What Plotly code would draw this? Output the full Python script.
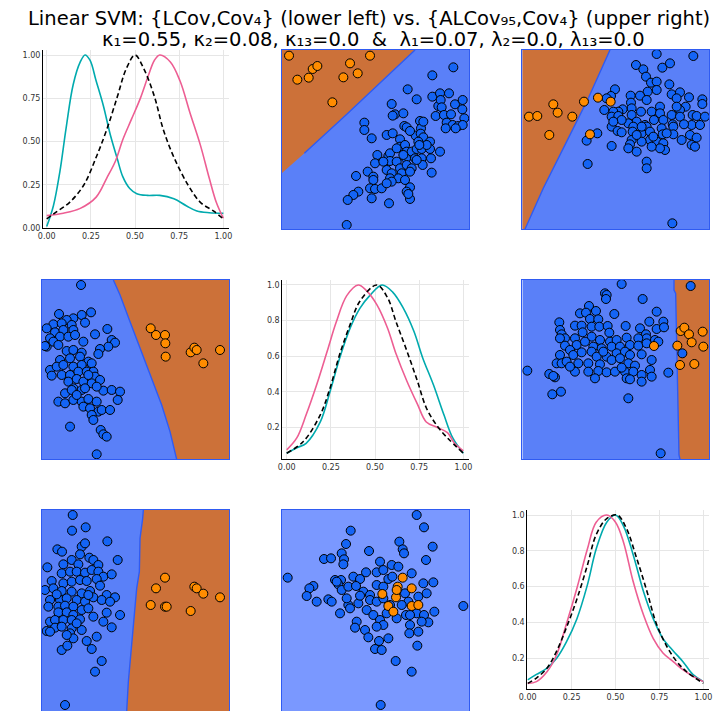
import plotly.graph_objects as go

# The page body adds an 8 px margin, so the figure is 8 px smaller and all
# screen-pixel layout positions are shifted by OFF.
OFF = 8
FW, FH = 713, 703
TITLE1 = "Linear SVM: {LCov,Cov₄} (lower left) vs. {ALCov₉₅,Cov₄} (upper right)"
TITLE2 = "κ₁=0.55, κ₂=0.08, κ₁₃=0.0\u00a0 &\u00a0 λ₁=0.07, λ₂=0.0, λ₁₃=0.0"

TEAL, PINK = "#00AAAE", "#ED5E93"
BLUE_BG, ORANGE_BG, LIGHT_BG = "#5A80F8", "#CC7139", "#7A98FF"
BLUE_PT, ORANGE_PT = "#1464F5", "#FF8C00"
EDGE = "#2F5BF2"

# ---------------- density panels (diagonal) ----------------
d11_teal_x = [0, 0.038, 0.075, 0.11, 0.15, 0.19, 0.217, 0.245, 0.28, 0.32, 0.36, 0.40, 0.43, 0.47, 0.51, 0.57, 0.64, 0.72, 0.79, 0.85, 0.92, 1.0]
d11_teal_y = [0.01, 0.13, 0.33, 0.58, 0.83, 0.96, 1.0, 0.97, 0.85, 0.71, 0.54, 0.40, 0.30, 0.23, 0.20, 0.19, 0.19, 0.17, 0.13, 0.10, 0.09, 0.087]
d11_pink_x = [0, 0.094, 0.19, 0.28, 0.34, 0.39, 0.43, 0.48, 0.53, 0.575, 0.61, 0.64, 0.70, 0.755, 0.81, 0.87, 0.92, 0.96, 1.0]
d11_pink_y = [0.073, 0.087, 0.115, 0.18, 0.29, 0.39, 0.51, 0.63, 0.75, 0.88, 0.97, 1.0, 0.96, 0.85, 0.67, 0.48, 0.29, 0.15, 0.058]
d11_black_x = [0, 0.057, 0.13, 0.21, 0.28, 0.34, 0.40, 0.45, 0.5, 0.55, 0.61, 0.66, 0.72, 0.80, 0.87, 0.95, 1.0]
d11_black_y = [0.054, 0.096, 0.15, 0.25, 0.41, 0.57, 0.76, 0.92, 1.0, 0.92, 0.76, 0.57, 0.41, 0.25, 0.15, 0.096, 0.054]

d22_pink_x = [0, 0.057, 0.11, 0.17, 0.23, 0.28, 0.34, 0.405, 0.45, 0.51, 0.57, 0.62, 0.68, 0.74, 0.79, 0.85, 0.91, 0.95, 1.0]
d22_pink_y = [0.073, 0.14, 0.27, 0.44, 0.63, 0.79, 0.94, 1.0, 0.97, 0.89, 0.76, 0.61, 0.46, 0.33, 0.23, 0.20, 0.17, 0.11, 0.067]
d22_teal_x = [0, 0.057, 0.11, 0.19, 0.245, 0.30, 0.36, 0.415, 0.47, 0.54, 0.60, 0.66, 0.72, 0.77, 0.83, 0.89, 0.94, 1.0]
d22_teal_y = [0.054, 0.085, 0.11, 0.23, 0.40, 0.59, 0.76, 0.87, 0.94, 1.0, 0.96, 0.87, 0.74, 0.59, 0.44, 0.27, 0.14, 0.054]
d22_black_x = [0, 0.094, 0.19, 0.245, 0.30, 0.36, 0.415, 0.51, 0.57, 0.62, 0.68, 0.74, 0.79, 0.85, 0.91, 1.0]
d22_black_y = [0.054, 0.12, 0.27, 0.42, 0.61, 0.78, 0.91, 1.0, 0.93, 0.79, 0.63, 0.46, 0.31, 0.21, 0.14, 0.054]

d33_pink_x = [0, 0.05, 0.11, 0.165, 0.22, 0.28, 0.34, 0.39, 0.45, 0.50, 0.545, 0.60, 0.66, 0.715, 0.77, 0.83, 0.885, 0.94, 1.0]
d33_pink_y = [0.06, 0.07, 0.125, 0.22, 0.39, 0.59, 0.81, 0.96, 1.0, 0.96, 0.85, 0.63, 0.44, 0.31, 0.23, 0.18, 0.135, 0.10, 0.07]
d33_teal_x = [0, 0.05, 0.11, 0.165, 0.22, 0.28, 0.34, 0.39, 0.45, 0.50, 0.545, 0.60, 0.66, 0.715, 0.77, 0.83, 0.885, 0.94, 1.0]
d33_teal_y = [0.08, 0.11, 0.145, 0.20, 0.29, 0.42, 0.61, 0.81, 0.96, 1.0, 0.94, 0.78, 0.57, 0.42, 0.31, 0.24, 0.18, 0.11, 0.07]
d33_black_x = [0, 0.05, 0.11, 0.165, 0.22, 0.28, 0.34, 0.39, 0.45, 0.51, 0.56, 0.62, 0.68, 0.73, 0.79, 0.85, 0.905, 1.0]
d33_black_y = [0.06, 0.09, 0.145, 0.24, 0.37, 0.53, 0.72, 0.89, 0.98, 1.0, 0.93, 0.76, 0.57, 0.40, 0.27, 0.18, 0.125, 0.06]

# ---------------- scatter panels (arbitrary measurement units) ----------------
p12_orange = [(57,32),(128,72),(142,63),(82,104),(116,98),(240,55),(263,85),(300,32),(187,172),(220,97)]
p12_blue = [(550,67),(487,91),(413,133),(440,163),(487,155),(510,145),(537,145),(505,183),(512,165),(515,187),(555,178),(578,165),(577,193),(583,220),(497,213),(522,210),(543,208),(530,233),(548,240),(565,243),(578,240),(527,250),(557,250),(365,177),(375,208),(400,205),(368,212),(450,228),(403,243),(410,247),(453,250),(283,233),(283,255),(305,280),(350,270),(368,265),(390,283),(437,272),(452,266),(460,277),(480,290),(510,320),(322,330),(315,355),(355,333),(360,325),(390,305),(405,300),(380,310),(410,320),(425,320),(440,312),(455,312),(480,312),(360,348),(380,350),(408,340),(435,340),(455,340),(483,340),(390,370),(410,360),(425,370),(458,360),(350,375),(365,385),(395,385),(420,380),(293,380),(310,395),(360,400),(385,400),(405,405),(485,383),(258,393),(310,405),(365,410),(300,430),(315,432),(335,430),(350,415),(420,427),(265,440),(250,450),(233,465),(305,460),(410,440),(420,462),(357,475),(230,540),(415,447),(440,345),(470,300),(445,290),(400,330),(340,350),(460,230),(420,258),(448,300)]
p12_region = [(35,15),(435,15),(345,100),(228,210),(103,325),(35,385)]

p13_orange = [(57,215),(82,213),(130,178),(143,203),(187,215),(118,270),(222,170),(264,158),(302,170),(240,268)]
p13_blue = [(440,27),(550,33),(378,60),(400,73),(457,68),(480,55),(408,95),(423,113),(440,110),(478,118),(440,135),(413,140),(315,133),(303,153),(290,160),(362,152),(390,152),(363,173),(410,165),(485,148),(510,142),(537,157),(500,160),(577,163),(577,177),(527,185),(510,195),(548,210),(560,213),(585,215),(500,185),(450,185),(425,200),(393,200),(365,190),(338,193),(325,200),(310,200),(283,195),(305,215),(325,213),(365,210),(450,205),(485,210),(510,215),(545,240),(570,240),(522,238),(488,238),(460,225),(432,225),(405,240),(380,230),(355,235),(370,245),(305,245),(323,258),(335,262),(368,260),(395,265),(410,245),(420,260),(455,250),(490,245),(458,268),(490,268),(515,285),(540,270),(560,278),(545,300),(555,305),(420,285),(395,290),(365,285),(360,298),(380,320),(355,310),(440,290),(460,295),(465,315),(450,310),(425,305),(305,303),(262,265),(230,287),(410,350),(410,370),(233,357),(487,535),(335,225),(395,245),(430,275),(470,265),(380,270),(310,230)]
p13_region = [(37,15),(300,15),(235,160),(170,290),(100,430),(45,553),(37,553)]

p21_orange = [(362,160),(378,180),(405,180),(406,205),(407,245),(482,232),(493,218),(500,225),(520,265),(570,225)]
p21_blue = [(153,30),(87,117),(183,112),(155,120),(130,130),(110,135),(70,148),(50,160),(95,145),(125,150),(165,143),(232,162),(195,178),(75,172),(100,165),(130,165),(60,190),(90,185),(115,185),(135,180),(160,200),(245,195),(255,203),(235,215),(210,222),(205,237),(50,215),(70,200),(85,210),(110,228),(130,225),(155,233),(90,255),(120,250),(150,245),(175,260),(60,285),(80,275),(100,270),(130,275),(155,270),(185,265),(65,302),(95,300),(120,300),(145,290),(170,290),(190,290),(195,305),(115,320),(140,312),(160,320),(185,325),(210,315),(130,340),(155,345),(165,340),(105,355),(125,345),(220,347),(245,345),(270,350),(263,375),(85,380),(105,385),(130,375),(155,380),(175,372),(200,380),(160,395),(180,400),(205,410),(215,405),(240,405),(185,420),(190,435),(120,455),(212,465),(220,478),(230,485),(200,538),(45,213),(140,360),(175,300),(200,335)]
p21_region = [(250,15),(270,60),(300,140),(330,220),(360,300),(395,390),(420,470),(440,553),(597,553),(597,15)]

p23_orange = [(512,168),(523,158),(537,178),(545,202),(578,170),(502,212),(580,215),(510,270),(553,267),(432,213)]
p23_blue = [(335,27),(285,55),(290,60),(288,72),(398,72),(542,33),(313,117),(440,110),(237,93),(210,115),(228,113),(258,108),(148,142),(240,132),(265,133),(195,152),(215,152),(245,155),(268,155),(293,153),(347,153),(390,160),(418,140),(440,162),(460,140),(462,157),(408,178),(410,190),(435,195),(445,200),(150,165),(155,178),(165,190),(195,190),(218,172),(245,185),(270,195),(298,173),(300,200),(320,195),(350,188),(385,190),(150,190),(165,212),(200,210),(225,200),(250,215),(275,220),(305,215),(330,215),(360,210),(385,212),(410,205),(150,240),(180,225),(190,240),(215,232),(245,230),(260,245),(290,245),(320,235),(345,230),(360,240),(395,238),(425,255),(517,235),(140,265),(155,265),(170,260),(205,265),(235,265),(270,268),(305,255),(330,250),(355,265),(375,272),(195,290),(235,290),(265,288),(290,292),(315,290),(345,290),(370,290),(395,300),(420,285),(425,305),(350,310),(360,313),(395,320),(255,310),(475,293),(52,287),(118,297),(135,307),(127,358),(153,350),(355,370),(452,535),(130,303),(335,278),(280,230),(180,275)]
p23_region = [(492,15),(492,45),(497,55),(500,200),(503,400),(507,540),(510,553),(597,553),(597,15)]

p31_orange = [(362,300),(378,250),(405,218),(405,305),(410,305),(482,318),(493,245),(500,250),(520,266),(570,277)]
p31_blue = [(128,30),(167,67),(126,77),(232,109),(82,133),(96,140),(155,125),(165,115),(150,148),(178,158),(190,165),(263,165),(125,165),(100,178),(205,180),(52,187),(145,178),(95,205),(120,200),(140,200),(165,203),(185,195),(205,200),(220,215),(245,208),(65,228),(100,235),(125,230),(150,225),(170,228),(200,222),(210,242),(45,255),(70,250),(95,258),(125,260),(155,265),(180,258),(230,270),(255,277),(60,285),(90,285),(110,280),(140,285),(165,290),(190,277),(215,285),(240,290),(55,305),(85,305),(105,302),(130,305),(155,315),(175,310),(230,323),(270,330),(85,322),(110,322),(130,330),(190,335),(60,350),(75,345),(100,345),(125,345),(150,343),(220,350),(245,367),(50,378),(75,368),(95,365),(125,370),(155,375),(120,385),(130,400),(170,408),(200,395),(95,435),(112,422),(185,432),(215,468),(195,500),(105,600),(140,355),(175,270),(80,268),(60,380),(110,390)]
p31_region = [(340,15),(338,40),(330,100),(328,200),(320,250),(305,430),(295,530),(290,618),(597,618),(597,15)]

p32_orange = [(398,218),(383,245),(425,250),(337,267),(378,277),(355,303),(370,320),(425,303),(445,300),(380,255)]
p32_blue = [(440,30),(462,67),(242,77),(228,117),(388,110),(398,133),(402,145),(488,125),(297,138),(215,145),(162,162),(183,160),(222,163),(220,178),(468,165),(330,170),(365,180),(385,185),(53,218),(195,225),(213,225),(250,215),(270,222),(288,202),(320,202),(340,195),(355,222),(367,215),(425,205),(460,235),(490,232),(130,243),(118,250),(110,273),(140,290),(175,283),(185,290),(205,238),(215,255),(235,245),(258,243),(280,260),(300,270),(320,240),(340,245),(405,265),(415,290),(445,275),(470,265),(300,285),(320,290),(340,280),(265,295),(235,300),(240,310),(210,325),(290,315),(310,330),(330,345),(340,360),(395,300),(408,330),(440,325),(462,330),(475,352),(493,320),(260,350),(255,368),(285,375),(295,397),(320,365),(355,400),(420,360),(418,385),(445,380),(327,408),(315,432),(335,435),(442,422),(377,468),(425,500),(580,303),(332,600),(455,350),(230,280),(200,230),(270,272),(360,300),(350,325),(380,340),(420,330)]

# ---------------- layout geometry (screen pixels) ----------------
COLS_SC = [(41.7, 229.0), (281.7, 469.0), (522.3, 709.0)]
ROWS_SC = [(50.0, 229.3), (280.0, 459.3), (510.0, 711.0)]
SC_XRANGE = {12: (35, 597), 13: (37, 597), 21: (35, 597), 23: (37, 597), 31: (35, 597), 32: (35, 597)}
SC_YRANGE = {12: (553, 15), 13: (553, 15), 21: (553, 15), 23: (553, 15), 31: (618, 15), 32: (618, 15)}
DENS = {
    1: dict(x=(43.0, 229.0), y=(50.0, 228.3), xr=(-0.021, 1.032), yr=(0.0, 1.029), fmt=".2f", yt=[0, 0.25, 0.5, 0.75, 1.0]),
    5: dict(x=(282.3, 469.0), y=(280.0, 459.3), xr=(-0.025, 1.032), yr=(0.02, 1.028), fmt=".1f", yt=[0.2, 0.4, 0.6, 0.8, 1.0]),
    9: dict(x=(527.3, 709.0), y=(510.0, 689.3), xr=(-0.002, 1.032), yr=(0.027, 1.028), fmt=".1f", yt=[0.2, 0.4, 0.6, 0.8, 1.0]),
}


def fx(px):
    return min(1.0, max(0.0, (px - OFF) / FW))


def fy(py):
    return min(1.0, max(0.0, 1 - (py - OFF) / FH))


fig = go.Figure()
layout = dict(width=FW, height=FH, margin=dict(l=0, r=0, t=0, b=0, autoexpand=False),
              paper_bgcolor="white", plot_bgcolor="rgba(0,0,0,0)", showlegend=False,
              font=dict(family="DejaVu Sans", color="#333"))


def ax_names(k):
    return ("x" if k == 1 else f"x{k}"), ("y" if k == 1 else f"y{k}")


def lay_names(k):
    return ("xaxis" if k == 1 else f"xaxis{k}"), ("yaxis" if k == 1 else f"yaxis{k}")


# density panels
dens_data = {
    1: [(d11_teal_x, d11_teal_y, TEAL, "solid"), (d11_pink_x, d11_pink_y, PINK, "solid"), (d11_black_x, d11_black_y, "black", "5px,3px")],
    5: [(d22_teal_x, d22_teal_y, TEAL, "solid"), (d22_pink_x, d22_pink_y, PINK, "solid"), (d22_black_x, d22_black_y, "black", "5px,3px")],
    9: [(d33_teal_x, d33_teal_y, TEAL, "solid"), (d33_pink_x, d33_pink_y, PINK, "solid"), (d33_black_x, d33_black_y, "black", "5px,3px")],
}
for k, spec in DENS.items():
    xa, ya = ax_names(k)
    lx, ly = lay_names(k)
    for xs, ys, col, dash in dens_data[k]:
        fig.add_trace(go.Scatter(x=xs, y=ys, mode="lines", xaxis=xa, yaxis=ya,
                                 line=dict(color=col, width=1.6, dash=dash, shape="spline", smoothing=1.0)))
    layout[lx] = dict(domain=[fx(spec["x"][0]), fx(spec["x"][1])], range=list(spec["xr"]), anchor=ya,
                      tickvals=[0, 0.25, 0.5, 0.75, 1.0], tickformat=".2f", ticks="", showgrid=True,
                      gridcolor="#E6E6E6", gridwidth=1, zeroline=False, showline=True, linecolor="black",
                      linewidth=1, tickfont=dict(size=8, color="#333"), fixedrange=True, automargin=False)
    layout[ly] = dict(domain=[fy(spec["y"][1]), fy(spec["y"][0])], range=list(spec["yr"]), anchor=xa,
                      tickvals=spec["yt"], tickformat=spec["fmt"], ticks="", showgrid=True,
                      gridcolor="#E6E6E6", gridwidth=1, zeroline=False, showline=True, linecolor="black",
                      linewidth=1, tickfont=dict(size=8, color="#333"), fixedrange=True, automargin=False)

# scatter panels
scatter_panels = {
    12: (p12_blue, p12_orange, p12_region, BLUE_BG),
    13: (p13_blue, p13_orange, p13_region, BLUE_BG),
    21: (p21_blue, p21_orange, p21_region, BLUE_BG),
    23: (p23_blue, p23_orange, p23_region, BLUE_BG),
    31: (p31_blue, p31_orange, p31_region, BLUE_BG),
    32: (p32_blue, p32_orange, None, LIGHT_BG),
}
for rc, (blue, orange, region, bg) in scatter_panels.items():
    r, c = rc // 10, rc % 10
    k = (r - 1) * 3 + c
    xa, ya = ax_names(k)
    lx, ly = lay_names(k)
    x0, x1 = SC_XRANGE[rc]
    y0, y1 = SC_YRANGE[rc]
    fig.add_trace(go.Scatter(x=[x0, x1, x1, x0, x0], y=[y0, y0, y1, y1, y0], mode="lines",
                             fill="toself", fillcolor=bg, line=dict(width=0), xaxis=xa, yaxis=ya,
                             hoverinfo="skip"))
    if region is not None:
        rx, ry = zip(*region)
        fig.add_trace(go.Scatter(x=list(rx) + [rx[0]], y=list(ry) + [ry[0]], mode="lines",
                                 fill="toself", fillcolor=ORANGE_BG, line=dict(width=0),
                                 xaxis=xa, yaxis=ya, hoverinfo="skip"))
        bx = [p[0] for p in region if p[0] not in (x0, x1)]
        by = [p[1] for p in region if p[0] not in (x0, x1)]
        fig.add_trace(go.Scatter(x=bx, y=by, mode="lines", line=dict(color=EDGE, width=1.4),
                                 xaxis=xa, yaxis=ya, hoverinfo="skip"))
    bx_, by_ = zip(*blue)
    fig.add_trace(go.Scatter(x=bx_, y=by_, mode="markers", xaxis=xa, yaxis=ya,
                             marker=dict(size=9, color=BLUE_PT, line=dict(color="black", width=1))))
    ox_, oy_ = zip(*orange)
    fig.add_trace(go.Scatter(x=ox_, y=oy_, mode="markers", xaxis=xa, yaxis=ya,
                             marker=dict(size=9, color=ORANGE_PT, line=dict(color="black", width=1))))
    cx0, cx1 = COLS_SC[c - 1]
    ry0, ry1 = ROWS_SC[r - 1]
    layout[lx] = dict(domain=[fx(cx0), fx(cx1)], range=[x0, x1], anchor=ya, showticklabels=False,
                      ticks="", showgrid=False, zeroline=False, showline=True, mirror=True,
                      linecolor=EDGE, linewidth=1, fixedrange=True, automargin=False)
    layout[ly] = dict(domain=[fy(ry1), fy(ry0)], range=[y0, y1], anchor=xa,
                      showticklabels=False, ticks="", showgrid=False, zeroline=False, showline=True,
                      mirror=True, linecolor=EDGE, linewidth=1, fixedrange=True, automargin=False)

layout["annotations"] = [
    dict(text=TITLE1, x=fx(369), y=fy(18.5), xref="paper", yref="paper", xanchor="center",
         yanchor="middle", showarrow=False, font=dict(size=19.5, family="DejaVu Sans", color="black")),
    dict(text=TITLE2, x=fx(373), y=fy(39), xref="paper", yref="paper", xanchor="center",
         yanchor="middle", showarrow=False, font=dict(size=19.5, family="DejaVu Sans", color="black")),
]
fig.update_layout(**layout)
fig.write_html("out.html")
